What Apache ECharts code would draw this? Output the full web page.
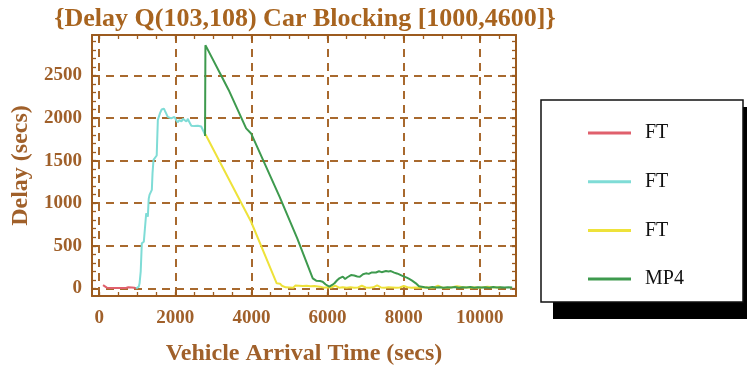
<!DOCTYPE html>
<html>
<head>
<meta charset="utf-8">
<script src="https://cdn.jsdelivr.net/npm/echarts@6/dist/echarts.min.js"></script>
<style>
  html, body { margin: 0; padding: 0; background: #ffffff; }
  #chart { width: 747px; height: 369px; }
</style>
</head>
<body>
<div id="chart"></div>
<script>
// Text
const chartTitle = '{Delay Q(103,108) Car Blocking [1000,4600]}';
const xAxisName = 'Vehicle Arrival Time (secs)';
const yAxisName = 'Delay (secs)';

// Tick labels
const xTicks = [0, 2000, 4000, 6000, 8000, 10000];
const yTicks = [0, 500, 1000, 1500, 2000, 2500];

// Series: [arrival time (s), delay (s)]
const ft1Points = [
  [100, 38], [150, 20], [200, 8], [300, 4], [400, 4], [500, 4], [600, 4],
  [700, 5], [760, 12], [810, 28], [860, 10], [920, 8], [970, 2]
];
const ft2Points = [
  [970, 0], [1040, 20], [1060, 60], [1090, 200], [1119, 529], [1172, 548],
  [1200, 700], [1234, 882], [1260, 860], [1277, 842], [1300, 1050], [1321, 1097],
  [1350, 1120], [1382, 1156], [1400, 1350], [1426, 1509], [1478, 1529], [1510, 1560],
  [1540, 1979], [1570, 2000], [1600, 2060], [1640, 2100], [1670, 2117], [1700, 2110],
  [1730, 2080], [1758, 2054], [1800, 2014], [1850, 2000], [1890, 1995], [1930, 2010],
  [1976, 2014], [2020, 1975], [2060, 1950], [2107, 1975], [2160, 1960], [2200, 1990],
  [2240, 1985], [2290, 1960], [2330, 1990], [2370, 1950], [2420, 1910], [2457, 1897],
  [2500, 1905], [2545, 1897], [2590, 1910], [2632, 1916], [2680, 1900], [2720, 1897],
  [2764, 1819], [2790, 1800]
];
const ft3Points = [
  [2790, 1810], [3400, 1287], [3990, 782], [4663, 59], [4700, 45], [4750, 55],
  [4800, 30], [4850, 40], [4900, 12], [4950, 35], [5000, 10], [5050, 30],
  [5100, 8], [5150, 32], [5200, 10], [5250, 30], [5300, 8], [5350, 28],
  [5400, 10], [5450, 30], [5500, 8], [5550, 25], [5600, 10], [5650, 28],
  [5700, 12], [5800, 20], [5900, 8], [6000, 14], [6100, 10], [6200, 32],
  [6300, 8], [6400, 12], [6500, 6], [6600, 12], [6700, 8], [6800, 10],
  [6900, 30], [7000, 10], [7100, 8], [7200, 12], [7300, 35], [7400, 10],
  [7500, 8], [7600, 12], [7700, 10], [7800, 8], [7900, 10], [8000, 28],
  [8100, 12], [8200, 8], [8300, 10], [8400, 8], [8500, 10], [8600, 12],
  [8700, 8], [8800, 10], [8900, 30], [9000, 10], [9200, 8], [9400, 25],
  [9600, 10], [9800, 12], [10000, 8], [10200, 20], [10400, 10], [10550, 14]
];
const mp4Points = [
  [2780, 1790], [2790, 2856], [3204, 2500], [3400, 2330], [3860, 1878], [3990, 1819],
  [4737, 1077], [5200, 590], [5610, 117], [5700, 90], [5800, 85], [5870, 78],
  [5950, 45], [6045, 20], [6120, 40], [6180, 60], [6250, 95], [6307, 117],
  [6350, 140], [6400, 137], [6460, 110], [6520, 130], [6615, 156], [6700, 150],
  [6780, 140], [6850, 137], [6930, 165], [7008, 176], [7080, 170], [7150, 185],
  [7270, 186], [7350, 200], [7420, 190], [7533, 203], [7600, 198], [7663, 203],
  [7750, 185], [7820, 175], [7882, 164], [7950, 150], [8013, 137], [8080, 125],
  [8144, 110], [8220, 90], [8320, 59], [8400, 25], [8451, 10], [8550, 14],
  [8650, 8], [8750, 15], [8850, 10], [8950, 14], [9050, 8], [9150, 12],
  [9250, 10], [9350, 15], [9450, 8], [9550, 12], [9650, 10], [9750, 16],
  [9850, 8], [9950, 14], [10050, 10], [10150, 12], [10250, 8], [10350, 15],
  [10450, 10], [10550, 14], [10650, 10], [10750, 12], [10850, 10]
];

// Axis extents and frame tick spacing
const xRange = [-190, 10950];
const yRange = [-90, 2975];
const xMinorTicks = [];
for (let v = 0; v <= 10500; v += 500) xMinorTicks.push(v);
const yMinorTicks = [];
for (let v = 0; v <= 2900; v += 100) yMinorTicks.push(v);

const brown = '#9c5b1f';
const gridBrown = '#a8692e';
const labelBrown = '#a0602a';
const serif = '"Liberation Serif", "Times New Roman", serif';

const frameLine = { show: true, onZero: false, lineStyle: { color: brown, width: 2 } };
const majorTick = len => ({ show: true, inside: true, length: len, lineStyle: { color: brown, width: 1.5 } });
const dashedSplit = { show: true, lineStyle: { color: gridBrown, width: 2, type: [8, 6] } };
const tickFont = { fontFamily: serif, fontWeight: 'bold', fontSize: 19, color: labelBrown, formatter: v => String(v) };

// Short inside ticks along the frame: extra axes sharing the same sides
function minorAxis(position, values, range) {
  return {
    type: 'value', gridIndex: 0, position: position, offset: 0,
    min: range[0], max: range[1],
    axisLine: { show: false, onZero: false },
    axisTick: { show: true, inside: true, length: 4, customValues: values, lineStyle: { color: brown, width: 1.3 } },
    axisLabel: { show: false },
    splitLine: { show: false }
  };
}

const option = {
  animation: false,
  backgroundColor: '#ffffff',
  title: {
    text: chartTitle,
    left: 300, top: 1, textAlign: 'center',
    textStyle: { fontFamily: serif, fontWeight: 'bold', fontSize: 26, color: '#a8641f' }
  },
  graphic: [
    { type: 'rect', shape: { x: 553, y: 107, width: 220, height: 212 }, style: { fill: '#000000' }, silent: true },
    { type: 'rect', shape: { x: 541, y: 100, width: 202, height: 202 }, style: { fill: '#ffffff', stroke: '#111111', lineWidth: 1.5 }, silent: true }
  ],
  legend: {
    orient: 'vertical', left: 583, top: 118,
    icon: 'rect', itemWidth: 43, itemHeight: 3, itemGap: 28.7,
    formatter: name => name.replace(/#\d$/, ''),
    textStyle: { fontFamily: serif, fontSize: 20, color: '#111111', lineHeight: 20, padding: [0, 0, 0, 9] },
    data: ['FT#1', 'FT#2', 'FT#3', 'MP4']
  },
  grid: {
    left: 92, top: 35, width: 424, height: 261,
    outerBoundsMode: 'none', containLabel: false
  },
  xAxis: [
    {
      type: 'value', position: 'bottom',
      min: xRange[0], max: xRange[1],
      name: xAxisName, nameLocation: 'middle', nameGap: 46,
      nameTextStyle: { fontFamily: serif, fontWeight: 'bold', fontSize: 24, color: labelBrown },
      axisLine: frameLine,
      axisTick: Object.assign(majorTick(6), { customValues: xTicks }),
      axisLabel: Object.assign({ customValues: xTicks, margin: 13 }, tickFont),
      splitLine: dashedSplit
    },
    {
      type: 'value', position: 'top',
      min: xRange[0], max: xRange[1],
      axisLine: frameLine,
      axisTick: Object.assign(majorTick(6), { customValues: xTicks }),
      axisLabel: { show: false },
      splitLine: { show: false }
    },
    minorAxis('bottom', xMinorTicks, xRange),
    minorAxis('top', xMinorTicks, xRange)
  ],
  yAxis: [
    {
      type: 'value', position: 'left',
      min: yRange[0], max: yRange[1],
      name: yAxisName, nameLocation: 'middle', nameGap: 55,
      nameTextStyle: { fontFamily: serif, fontWeight: 'bold', fontSize: 24, color: labelBrown },
      axisLine: frameLine,
      axisTick: Object.assign(majorTick(6), { customValues: yTicks }),
      axisLabel: Object.assign({ customValues: yTicks, margin: 10 }, tickFont),
      splitLine: dashedSplit
    },
    {
      type: 'value', position: 'right',
      min: yRange[0], max: yRange[1],
      axisLine: frameLine,
      axisTick: Object.assign(majorTick(6), { customValues: yTicks }),
      axisLabel: { show: false },
      splitLine: { show: false }
    },
    minorAxis('left', yMinorTicks, yRange),
    minorAxis('right', yMinorTicks, yRange)
  ],
  series: [
    { name: 'FT#1', data: ft1Points, color: '#e0606c' },
    { name: 'FT#2', data: ft2Points, color: '#7fdcd6' },
    { name: 'FT#3', data: ft3Points, color: '#eee23a' },
    { name: 'MP4', data: mp4Points, color: '#3e9a4e' }
  ].map(s => ({
    type: 'line', name: s.name, data: s.data,
    xAxisIndex: 0, yAxisIndex: 0,
    showSymbol: false, symbol: 'none',
    itemStyle: { color: s.color },
    lineStyle: { color: s.color, width: 2 }
  }))
};

const chart = echarts.init(document.getElementById('chart'), null, { renderer: 'canvas' });
chart.setOption(option);
</script>
</body>
</html>
